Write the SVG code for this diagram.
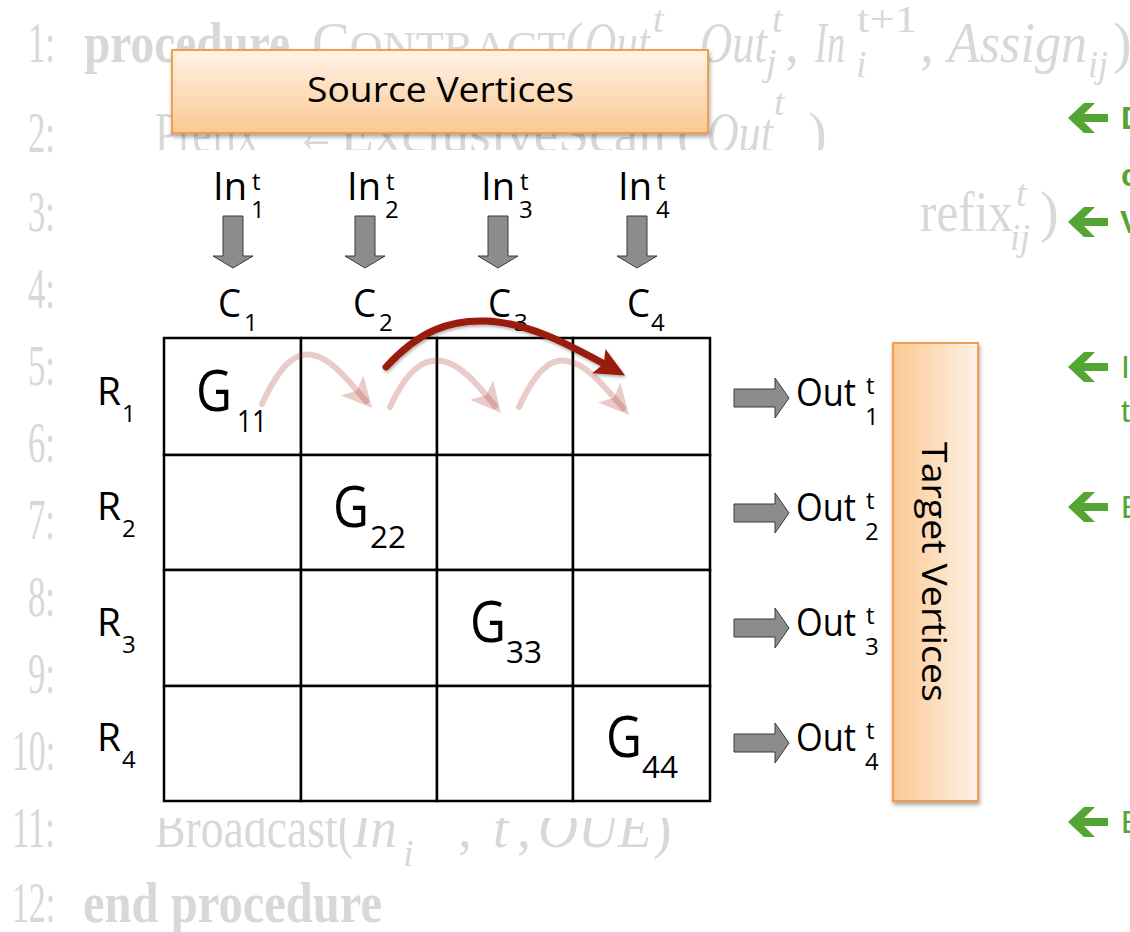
<svg xmlns="http://www.w3.org/2000/svg" width="1130" height="932" viewBox="0 0 1130 932">
<defs>
<style>
.bg{font-family:"Liberation Serif","Times New Roman",serif;font-size:56px;fill:#d8d8d8}
.bgb{font-weight:bold}
.it{font-style:italic}
.sm{font-size:38px}
.lab{font-family:"Open Sans","DejaVu Sans",sans-serif;fill:#000}
.big{font-size:38px}
.g{font-size:56px}
.s{font-size:24px}
.gs{font-size:31px}
.blk{fill:#8c8c8c;stroke:#3a3a3a;stroke-width:1}
.cell{fill:#fff;stroke:#000;stroke-width:2.5}
.grn{fill:#53a633}
.gt{font-family:"Liberation Sans",Arial,sans-serif;font-size:32px;fill:#53a633}
.pink{fill:none;stroke:#a52a1e;stroke-opacity:0.24;stroke-width:6;stroke-linecap:round}
</style>
<linearGradient id="gSrc" x1="0" y1="0" x2="0" y2="1">
<stop offset="0" stop-color="#fff3e7"/>
<stop offset="1" stop-color="#fbc893"/>
</linearGradient>
<linearGradient id="gTgt" x1="0" y1="0" x2="1" y2="0">
<stop offset="0" stop-color="#fbc993"/>
<stop offset="1" stop-color="#fef1e5"/>
</linearGradient>
<filter id="sh" x="-10%" y="-10%" width="120%" height="130%">
<feDropShadow dx="1" dy="3" stdDeviation="2" flood-color="#000" flood-opacity="0.35"/>
</filter>
<filter id="sh2" x="-10%" y="-20%" width="120%" height="150%">
<feDropShadow dx="1" dy="2" stdDeviation="1.5" flood-color="#000" flood-opacity="0.3"/>
</filter>
<marker id="mPink" markerUnits="userSpaceOnUse" markerWidth="30" markerHeight="30" viewBox="0 0 26 26" refX="18" refY="13" orient="auto">
<path d="M0,0 L26,13 L0,26 L6,13 Z" fill="#a52a1e" fill-opacity="0.24"/>
</marker>
<marker id="mRed" markerUnits="userSpaceOnUse" markerWidth="30" markerHeight="30" viewBox="0 0 26 26" refX="18" refY="13" orient="auto">
<path d="M0,1 L26,13 L0,25 L5,13 Z" fill="#9a1b0c"/>
</marker>
</defs>

<rect width="1130" height="932" fill="#fff"/>

<!-- faded background algorithm text -->
<g id="background-text" class="bg">
<text x="28" y="62" textLength="27" lengthAdjust="spacingAndGlyphs">1:</text>
<text x="84" y="62" class="bgb" textLength="206" lengthAdjust="spacingAndGlyphs">procedure</text>
<text x="312" y="62" textLength="272" lengthAdjust="spacingAndGlyphs">C<tspan font-size="45">ONTRACT</tspan>(</text>
<text x="585" y="62" class="it" textLength="65" lengthAdjust="spacingAndGlyphs">Out</text>
<text x="653" y="32" class="it sm">t</text>
<text x="700" y="62" class="it" textLength="67" lengthAdjust="spacingAndGlyphs">Out</text>
<text x="772" y="32" class="it sm">t</text>
<text x="766" y="75" class="it sm">j</text>
<text x="785" y="62">,</text>
<text x="815" y="62" class="it" textLength="30" lengthAdjust="spacingAndGlyphs">In</text>
<text x="857" y="32" class="sm" textLength="60" lengthAdjust="spacingAndGlyphs">t+1</text>
<text x="856" y="77" class="it sm">i</text>
<text x="920" y="62">,</text>
<text x="948" y="62" class="it" textLength="139" lengthAdjust="spacingAndGlyphs">Assign</text>
<text x="1088" y="77" class="it sm" textLength="20" lengthAdjust="spacingAndGlyphs">ij</text>
<text x="1113" y="62">)</text>

<text x="28" y="152" textLength="27" lengthAdjust="spacingAndGlyphs">2:</text>
<text x="155" y="152" textLength="103" lengthAdjust="spacingAndGlyphs">Prefix</text>
<text x="296" y="152" textLength="40" lengthAdjust="spacingAndGlyphs">←</text>
<text x="340" y="152" textLength="326" lengthAdjust="spacingAndGlyphs">ExclusiveScan</text>
<text x="677" y="152">(</text>
<text x="707" y="152" class="it" textLength="66" lengthAdjust="spacingAndGlyphs">Out</text>
<text x="774" y="115" class="it sm">t</text>
<text x="808" y="152">)</text>

<text x="28" y="231" textLength="27" lengthAdjust="spacingAndGlyphs">3:</text>
<text x="920" y="231" textLength="93" lengthAdjust="spacingAndGlyphs">refix</text>
<text x="1016" y="206" class="it sm">t</text>
<text x="1010" y="250" class="it sm" textLength="20" lengthAdjust="spacingAndGlyphs">ij</text>
<text x="1040" y="231">)</text>

<text x="28" y="308" textLength="27" lengthAdjust="spacingAndGlyphs">4:</text>
<text x="28" y="385" textLength="27" lengthAdjust="spacingAndGlyphs">5:</text>
<text x="28" y="462" textLength="27" lengthAdjust="spacingAndGlyphs">6:</text>
<text x="28" y="539" textLength="27" lengthAdjust="spacingAndGlyphs">7:</text>
<text x="28" y="616" textLength="27" lengthAdjust="spacingAndGlyphs">8:</text>
<text x="28" y="693" textLength="27" lengthAdjust="spacingAndGlyphs">9:</text>
<text x="12" y="770" textLength="43" lengthAdjust="spacingAndGlyphs">10:</text>
<text x="12" y="847" textLength="43" lengthAdjust="spacingAndGlyphs">11:</text>
<text x="155" y="847" textLength="198" lengthAdjust="spacingAndGlyphs">Broadcast(</text>
<text x="353" y="847" class="it" textLength="44" lengthAdjust="spacingAndGlyphs">In</text>
<text x="403" y="866" class="it sm">i</text>
<text x="458" y="847">,</text>
<text x="493" y="847" class="it">t</text>
<text x="517" y="847">,</text>
<text x="538" y="847" class="it" textLength="114" lengthAdjust="spacingAndGlyphs">OUE</text>
<text x="653" y="847">)</text>
<text x="12" y="922" textLength="43" lengthAdjust="spacingAndGlyphs">12:</text>
<text x="83" y="922" class="bgb" textLength="299" lengthAdjust="spacingAndGlyphs">end procedure</text>
</g>

<!-- white cover behind the diagram -->
<rect x="150" y="150" width="768" height="668" fill="#fff"/>

<!-- Source Vertices box -->
<g id="source-vertices">
<rect x="172" y="50" width="536" height="83" fill="url(#gSrc)" stroke="#f59d4f" stroke-width="2" filter="url(#sh)"/>
<text x="307" y="102" class="lab" font-size="34" textLength="267" lengthAdjust="spacingAndGlyphs">Source Vertices</text>
</g>

<!-- In labels -->
<g id="in1">
<text x="213" y="200" class="lab big" textLength="34" lengthAdjust="spacingAndGlyphs">In</text>
<text x="252" y="190" class="lab s">t</text>
<text x="251" y="218" class="lab s">1</text>
</g>
<g id="in2">
<text x="347" y="200" class="lab big" textLength="34" lengthAdjust="spacingAndGlyphs">In</text>
<text x="386" y="190" class="lab s">t</text>
<text x="385" y="218" class="lab s">2</text>
</g>
<g id="in3">
<text x="481" y="200" class="lab big" textLength="34" lengthAdjust="spacingAndGlyphs">In</text>
<text x="520" y="190" class="lab s">t</text>
<text x="519" y="218" class="lab s">3</text>
</g>
<g id="in4">
<text x="618" y="200" class="lab big" textLength="34" lengthAdjust="spacingAndGlyphs">In</text>
<text x="657" y="190" class="lab s">t</text>
<text x="656" y="218" class="lab s">4</text>
</g>

<g id="c1"><text x="218" y="317" class="lab big" textLength="23" lengthAdjust="spacingAndGlyphs">C</text><text x="244" y="331" class="lab s">1</text></g>
<g id="c2"><text x="353" y="317" class="lab big" textLength="23" lengthAdjust="spacingAndGlyphs">C</text><text x="379" y="331" class="lab s">2</text></g>
<g id="c3"><text x="488" y="317" class="lab big" textLength="23" lengthAdjust="spacingAndGlyphs">C</text><text x="514" y="331" class="lab s">3</text></g>
<g id="c4"><text x="627" y="317" class="lab big" textLength="23" lengthAdjust="spacingAndGlyphs">C</text><text x="651" y="331" class="lab s">4</text></g>

<g id="r1"><text x="97" y="405" class="lab big" textLength="24" lengthAdjust="spacingAndGlyphs">R</text><text x="122" y="422" class="lab s">1</text></g>
<g id="r2"><text x="97" y="520" class="lab big" textLength="24" lengthAdjust="spacingAndGlyphs">R</text><text x="122" y="537" class="lab s">2</text></g>
<g id="r3"><text x="97" y="636" class="lab big" textLength="24" lengthAdjust="spacingAndGlyphs">R</text><text x="122" y="653" class="lab s">3</text></g>
<g id="r4"><text x="97" y="751" class="lab big" textLength="24" lengthAdjust="spacingAndGlyphs">R</text><text x="122" y="768" class="lab s">4</text></g>

<!-- grid -->
<g id="grid">
<rect x="164" y="338" width="137" height="117" class="cell"/>
<rect x="301" y="338" width="136" height="117" class="cell"/>
<rect x="437" y="338" width="136" height="117" class="cell"/>
<rect x="573" y="338" width="137" height="117" class="cell"/>
<rect x="164" y="455" width="137" height="115" class="cell"/>
<rect x="301" y="455" width="136" height="115" class="cell"/>
<rect x="437" y="455" width="136" height="115" class="cell"/>
<rect x="573" y="455" width="137" height="115" class="cell"/>
<rect x="164" y="570" width="137" height="116" class="cell"/>
<rect x="301" y="570" width="136" height="116" class="cell"/>
<rect x="437" y="570" width="136" height="116" class="cell"/>
<rect x="573" y="570" width="137" height="116" class="cell"/>
<rect x="164" y="686" width="137" height="115" class="cell"/>
<rect x="301" y="686" width="136" height="115" class="cell"/>
<rect x="437" y="686" width="136" height="115" class="cell"/>
<rect x="573" y="686" width="137" height="115" class="cell"/>
</g>

<g id="g11"><text x="196" y="411" class="lab g" textLength="36" lengthAdjust="spacingAndGlyphs">G</text><text x="237" y="432" class="lab gs" textLength="30" lengthAdjust="spacingAndGlyphs">11</text></g>
<g id="g22"><text x="333" y="527" class="lab g" textLength="36" lengthAdjust="spacingAndGlyphs">G</text><text x="370" y="548" class="lab gs" textLength="36" lengthAdjust="spacingAndGlyphs">22</text></g>
<g id="g33"><text x="470" y="642" class="lab g" textLength="36" lengthAdjust="spacingAndGlyphs">G</text><text x="506" y="663" class="lab gs" textLength="36" lengthAdjust="spacingAndGlyphs">33</text></g>
<g id="g44"><text x="606" y="757" class="lab g" textLength="36" lengthAdjust="spacingAndGlyphs">G</text><text x="642" y="778" class="lab gs" textLength="36" lengthAdjust="spacingAndGlyphs">44</text></g>

<!-- Out labels -->
<g id="out1"><text x="796" y="406" class="lab big" textLength="60" lengthAdjust="spacingAndGlyphs">Out</text><text x="866" y="394" class="lab s">t</text><text x="865" y="425" class="lab s">1</text></g>
<g id="out2"><text x="796" y="521" class="lab big" textLength="60" lengthAdjust="spacingAndGlyphs">Out</text><text x="866" y="509" class="lab s">t</text><text x="865" y="540" class="lab s">2</text></g>
<g id="out3"><text x="796" y="636" class="lab big" textLength="60" lengthAdjust="spacingAndGlyphs">Out</text><text x="866" y="624" class="lab s">t</text><text x="865" y="655" class="lab s">3</text></g>
<g id="out4"><text x="796" y="751" class="lab big" textLength="60" lengthAdjust="spacingAndGlyphs">Out</text><text x="866" y="739" class="lab s">t</text><text x="865" y="770" class="lab s">4</text></g>

<!-- Target Vertices box -->
<g id="target-vertices">
<rect x="893" y="343" width="85" height="458" fill="url(#gTgt)" stroke="#f59d4f" stroke-width="2" filter="url(#sh)"/>
<text transform="translate(922,572) rotate(90)" x="-130" y="0" class="lab" font-size="34" textLength="260" lengthAdjust="spacingAndGlyphs">Target Vertices</text>
</g>

<!-- connectors -->
<g id="connectors">
<polygon class="blk" points="223,216 243,216 243,256 253,256 233,268 213,256 223,256"/>
<polygon class="blk" points="355,216 375,216 375,256 385,256 365,268 345,256 355,256"/>
<polygon class="blk" points="488,216 508,216 508,256 518,256 498,268 478,256 488,256"/>
<polygon class="blk" points="627,216 647,216 647,256 657,256 637,268 617,256 627,256"/>

<polygon class="blk" points="734,389 775,389 775,378 789,398 775,418 775,407 734,407"/>
<polygon class="blk" points="734,504 775,504 775,493 789,513 775,533 775,522 734,522"/>
<polygon class="blk" points="734,619 775,619 775,608 789,628 775,648 775,637 734,637"/>
<polygon class="blk" points="734,734 775,734 775,723 789,743 775,763 775,752 734,752"/>

<path class="pink" d="M262,404 C280,365 295,352 312,355 C332,358 350,383 366,401" marker-end="url(#mPink)"/>
<path class="pink" d="M390,407 C408,368 425,358 442,361 C462,364 480,388 495,406" marker-end="url(#mPink)"/>
<path class="pink" d="M519,407 C537,368 552,358 567,361 C588,364 607,390 623,408" marker-end="url(#mPink)"/>

<path d="M386,367 C420,330 450,320 485,321 C530,322 575,348 617,371" fill="none" stroke="#9a1b0c" stroke-width="7" stroke-linecap="round" marker-end="url(#mRed)" filter="url(#sh2)"/>
</g>

<!-- green side notes (clipped at right edge) -->
<g id="notes">
<polygon class="grn" points="1068,118 1084,103 1095,103 1084,114 1108,114 1108,122 1084,122 1095,133 1084,133"/>
<polygon class="grn" points="1068,222 1084,207 1095,207 1084,218 1108,218 1108,226 1084,226 1095,237 1084,237"/>
<polygon class="grn" points="1068,367 1084,352 1095,352 1084,363 1108,363 1108,371 1084,371 1095,382 1084,382"/>
<polygon class="grn" points="1068,507 1084,492 1095,492 1084,503 1108,503 1108,511 1084,511 1095,522 1084,522"/>
<polygon class="grn" points="1068,822 1084,807 1095,807 1084,818 1108,818 1108,826 1084,826 1095,837 1084,837"/>
<text x="1121" y="129" class="gt" font-weight="bold">D</text>
<text x="1121" y="186" class="gt" font-weight="bold">c</text>
<text x="1120" y="233" class="gt" font-weight="bold">V</text>
<text x="1121" y="378" class="gt">I</text>
<text x="1121" y="422" class="gt">t</text>
<text x="1121" y="518" class="gt">E</text>
<text x="1121" y="833" class="gt">E</text>
</g>
</svg>
